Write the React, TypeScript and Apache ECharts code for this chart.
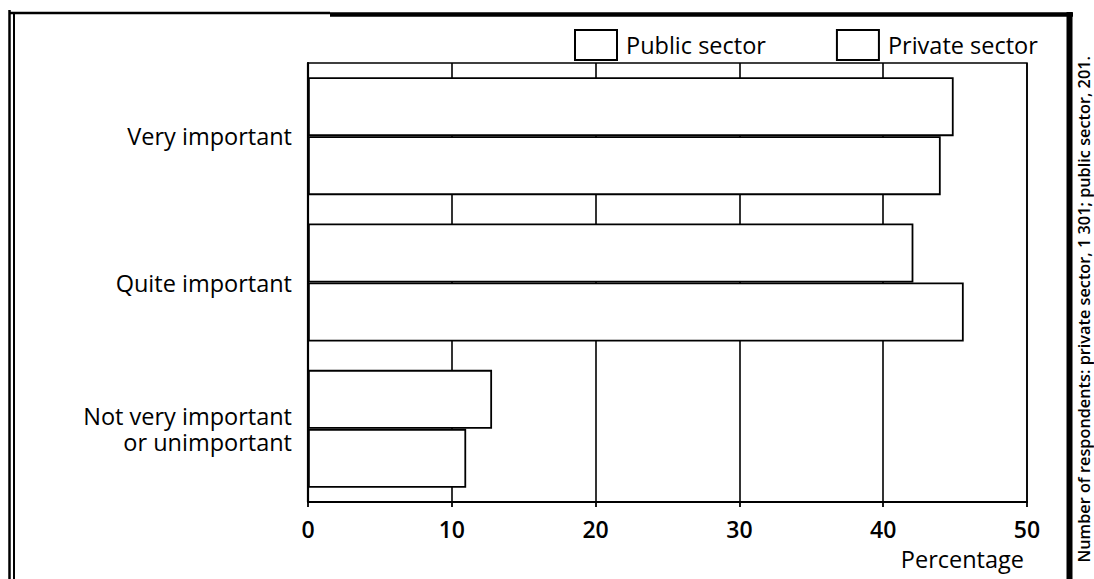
import React, { useEffect, useRef } from "react";
import * as echarts from "echarts";

const categories = ["Very important", "Quite important", "Not very important\nor unimportant"];
const seriesNames = ["Public sector", "Private sector"];
const publicSector = [44.9, 42.1, 12.8];
const privateSector = [44.0, 45.6, 11.0];
const xMin = 0;
const xMax = 50;
const xInterval = 10;
const axisName = "Percentage";
const footnote = "Number of respondents: private sector, 1 301; public sector, 201.";

export default function App() {
  const ref = useRef<HTMLDivElement>(null);
  useEffect(() => {
    const chart = echarts.init(ref.current!, null, { renderer: "svg" });
    const font = "'Open Sans', 'Noto Sans', sans-serif";
    const barStyle = { color: "#fff", borderColor: "#000", borderWidth: 1.8 };
    chart.setOption({
      animation: false,
      backgroundColor: "#fff",
      textStyle: { fontFamily: font, color: "#000" },
      grid: {
        left: 308,
        right: 67,
        top: 63,
        bottom: 77,
        show: true,
        borderColor: "#000",
        borderWidth: 1.5,
        backgroundColor: "transparent",
      },
      legend: {
        data: seriesNames,
        left: 574,
        top: 29,
        padding: 0,
        itemWidth: 42,
        itemHeight: 30,
        itemGap: 70,
        icon: "rect",
        textStyle: { fontSize: 23.5, color: "#000", fontFamily: font, padding: [0, 0, 0, 4] },
      },
      xAxis: {
        type: "value",
        min: xMin,
        max: xMax,
        interval: xInterval,
        name: axisName,
        nameLocation: "end",
        nameGap: 0,
        nameTextStyle: {
          fontSize: 23.5,
          color: "#000",
          fontFamily: font,
          align: "right",
          verticalAlign: "top",
          padding: [45, 3, 0, 0],
        },
        axisLine: { show: true, lineStyle: { color: "#000", width: 2.2 } },
        axisTick: { show: true, length: 5, lineStyle: { color: "#000", width: 1.8 } },
        axisLabel: { fontSize: 23, fontWeight: 600, color: "#000", margin: 15, fontFamily: font },
        splitLine: { show: true, lineStyle: { color: "#000", width: 1.6 } },
      },
      yAxis: {
        type: "category",
        data: categories,
        inverse: true,
        axisLine: { show: true, lineStyle: { color: "#000", width: 2.2 } },
        axisTick: { show: false },
        axisLabel: {
          fontSize: 23.5,
          color: "#000",
          margin: 16,
          lineHeight: 26,
          align: "right",
          fontFamily: font,
        },
        splitLine: { show: false },
      },
      series: [
        {
          name: seriesNames[0],
          type: "bar",
          data: publicSector,
          barWidth: 59,
          barGap: "0%",
          itemStyle: barStyle,
        },
        {
          name: seriesNames[1],
          type: "bar",
          data: privateSector,
          barWidth: 59,
          barGap: "0%",
          itemStyle: barStyle,
        },
      ],
      graphic: [
        { type: "line", shape: { x1: 9.5, y1: 10, x2: 9.5, y2: 579 }, style: { stroke: "#000", lineWidth: 2.5 } },
        { type: "line", shape: { x1: 14, y1: 13, x2: 14, y2: 579 }, style: { stroke: "#000", lineWidth: 2 } },
        { type: "line", shape: { x1: 9, y1: 13, x2: 330, y2: 13 }, style: { stroke: "#000", lineWidth: 2.5 } },
        { type: "line", shape: { x1: 330, y1: 14.5, x2: 1073, y2: 14.5 }, style: { stroke: "#000", lineWidth: 4.5 } },
        { type: "line", shape: { x1: 1069.5, y1: 12, x2: 1069.5, y2: 579 }, style: { stroke: "#000", lineWidth: 6 } },
        {
          type: "text",
          x: 1083.5,
          y: 56,
          rotation: Math.PI / 2,
          style: {
            text: footnote,
            fontSize: 16.3,
            fontWeight: 600,
            fontFamily: font,
            fill: "#000",
            align: "right",
            verticalAlign: "middle",
          },
        },
      ],
    });
    return () => chart.dispose();
  }, []);
  return (
    <div
      ref={ref}
      style={{ position: "fixed", left: 0, top: 0, width: 1094, height: 579, background: "#fff" }}
    />
  );
}
